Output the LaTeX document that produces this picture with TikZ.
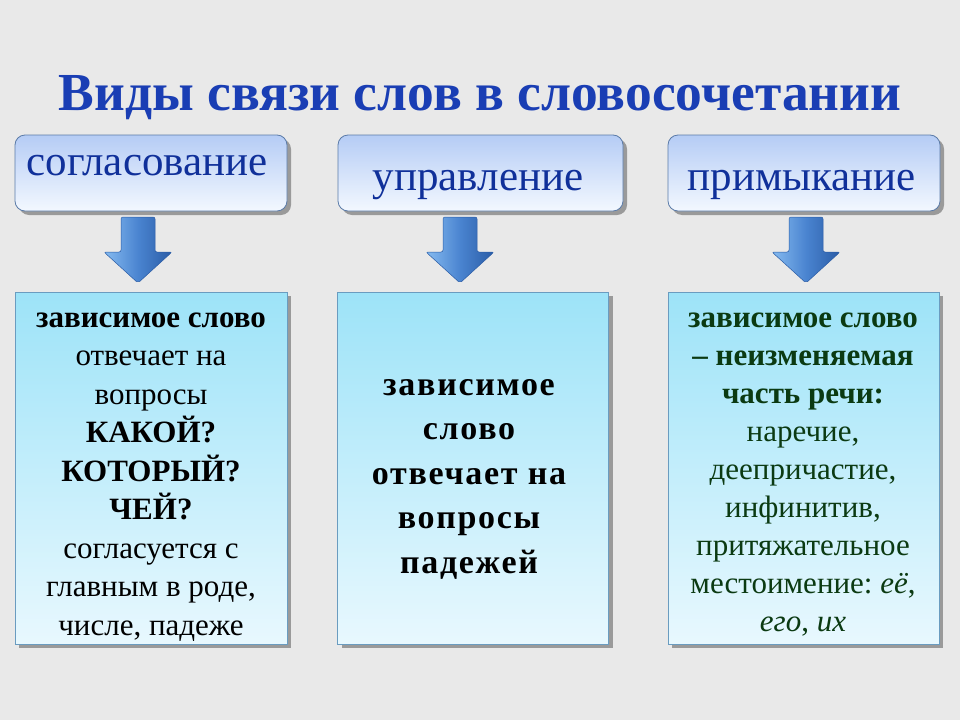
\documentclass[tikz,border=0pt]{standalone}
\usepackage{fontspec}
\setmainfont{Liberation Serif}
\frenchspacing
\usetikzlibrary{shadows}
\definecolor{bg}{HTML}{E9E9E9}
\definecolor{titleblue}{HTML}{1A3EB4}
\definecolor{headblue}{HTML}{10309A}
\definecolor{headtop}{HTML}{B5CCF5}
\definecolor{headbot}{HTML}{F3F8FF}
\definecolor{headline}{HTML}{5B7BA8}
\definecolor{boxtop}{HTML}{9DE3F8}
\definecolor{boxbot}{HTML}{E8F8FE}
\definecolor{boxline}{HTML}{6A9CC0}
\definecolor{shadowgray}{HTML}{9A9A9A}
\definecolor{arrowlight}{HTML}{86BBF0}
\definecolor{arrowmid}{HTML}{4A84D0}
\definecolor{arrowdark}{HTML}{2A5CA6}
\definecolor{greentext}{HTML}{0B3A12}
\tikzset{
  headbox/.style={draw=headline, line width=0.8pt, rounded corners=10pt,
    top color=headtop, bottom color=headbot, minimum height=76pt,
    drop shadow={shadow xshift=4pt, shadow yshift=-4pt, fill=shadowgray, opacity=1}},
  headtext/.style={anchor=base, text=headblue, inner sep=0pt, font=\fontsize{43}{48}\selectfont},
  infobox/.style={draw=boxline, line width=0.6pt, top color=boxtop, bottom color=boxbot,
    minimum height=352pt,
    drop shadow={shadow xshift=4pt, shadow yshift=-4pt, fill=shadowgray, opacity=1}},
  infotext/.style={anchor=base, align=flush center, inner sep=0pt, text width=268pt},
  blockarrow/.style={draw=arrowdark, line width=0.5pt, rounded corners=2pt,
    left color=arrowlight, right color=arrowdark, middle color=arrowmid}
}
\begin{document}
\begin{tikzpicture}[x=1pt,y=-1pt]
\useasboundingbox (0,0) rectangle (960,720);
\fill[bg] (0,0) rectangle (960,720);

\node[anchor=base, text=titleblue, inner sep=0pt, font=\fontsize{53.5}{58}\selectfont\bfseries]
  (title) at (480,110) {Виды связи слов в словосочетании};

% header boxes
\node[headbox, minimum width=272pt] (h1) at (151,173) {};
\node[headbox, minimum width=285pt] (h2) at (480.5,173) {};
\node[headbox, minimum width=272pt] (h3) at (804,173) {};
\node[headtext] (h1t) at (147,175) {согласование};
\node[headtext] (h2t) at (478,190) {управление};
\node[headtext] (h3t) at (802,190) {примыкание};

% arrows
\foreach \cx/\nm in {138/a1, 460/a2, 806/a3}{
  \draw[blockarrow] (\cx-17,217) -- (\cx+17,217) -- (\cx+17,252) -- (\cx+34,252)
     -- (\cx,283) -- (\cx-34,252) -- (\cx-17,252) -- cycle;
}

% info boxes
\node[infobox, minimum width=272pt] (b1) at (151,468) {};
\node[infobox, minimum width=271pt] (b2) at (473,468) {};
\node[infobox, minimum width=271pt] (b3) at (803.5,468) {};

\node[infotext, font=\fontsize{31}{38.5}\selectfont] (b1t) at (151,327)
 {\textbf{зависимое слово}\\ отвечает на\\ вопросы\\ \textbf{КАКОЙ?}\\ \textbf{КОТОРЫЙ?}\\ \textbf{ЧЕЙ?}\\ согласуется с\\ главным в роде,\\ числе, падеже};

\node[infotext, font=\fontsize{34}{44.5}\selectfont\bfseries\addfontfeature{LetterSpace=5}] (b2t) at (469,395)
 {зависимое\\ слово\\ отвечает на\\ вопросы\\ падежей};

\node[infotext, text=greentext, font=\fontsize{31}{38}\selectfont] (b3t) at (803,327)
 {\textbf{зависимое слово}\\ \textbf{– неизменяемая}\\ \textbf{часть речи:}\\ наречие,\\ деепричастие,\\ инфинитив,\\ притяжательное\\ местоимение: \textit{её},\\ \textit{его}, \textit{их}};
\end{tikzpicture}
\end{document}
